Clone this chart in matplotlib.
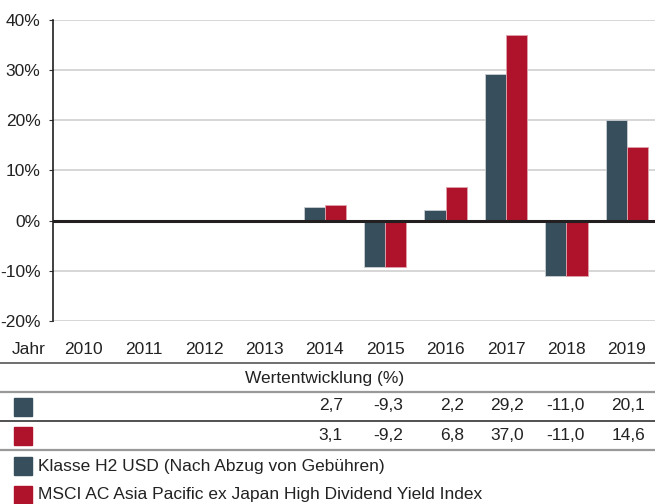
import numpy as np
import matplotlib
matplotlib.use('Agg')
import matplotlib.pyplot as plt
from matplotlib.transforms import blended_transform_factory
from matplotlib.patches import Rectangle
from matplotlib.lines import Line2D

plt.rcParams['font.family'] = ['Liberation Sans', 'DejaVu Sans']

# Daten
years = ['2010', '2011', '2012', '2013', '2014', '2015', '2016', '2017', '2018', '2019']
fund = [np.nan, np.nan, np.nan, np.nan, 2.7, -9.3, 2.2, 29.2, -11.0, 20.1]
index = [np.nan, np.nan, np.nan, np.nan, 3.1, -9.2, 6.8, 37.0, -11.0, 14.6]
fund_txt = ['', '', '', '', '2,7', '-9,3', '2,2', '29,2', '-11,0', '20,1']
index_txt = ['', '', '', '', '3,1', '-9,2', '6,8', '37,0', '-11,0', '14,6']
yticks = [-20, -10, 0, 10, 20, 30, 40]
labels = ['Klasse H2 USD (Nach Abzug von Gebühren)',
          'MSCI AC Asia Pacific ex Japan High Dividend Yield Index']

c_fund = '#374f5c'
c_index = '#ae132b'
W, H = 655, 504
FS = 12.5

fig = plt.figure(figsize=(W / 100, H / 100), dpi=100)

def fy(py):
    return 1 - py / H

def fx(px):
    return px / W

ax = fig.add_axes([fx(53), fy(321), fx(604), (321 - 20) / H])
x = np.arange(len(years))
bw = 0.35
ax.bar(x - bw / 2, fund, width=bw, color=c_fund, edgecolor='#c9ced2', linewidth=0.6, zorder=3)
ax.bar(x + bw / 2, index, width=bw, color=c_index, edgecolor='#e0a3ad', linewidth=0.6, zorder=3)

ax.set_xlim(-0.5, 9.5)
ax.set_ylim(-20, 40)
ax.set_yticks(yticks)
ax.set_yticklabels([f'{v}%' for v in yticks], fontsize=FS, color='#222222')
ax.tick_params(axis='y', length=3, width=0.8, pad=6, color='#333333')
ax.set_xticks([])
ax.grid(axis='y', color='#cfcfcf', linewidth=1.2, zorder=0)
ax.axhline(0, color='#231f20', linewidth=2.2, zorder=4)
for s in ['top', 'right', 'bottom']:
    ax.spines[s].set_visible(False)
ax.spines['left'].set_color('#231f20')
ax.spines['left'].set_linewidth(1.2)

# Tabelle unter der Grafik
tr = blended_transform_factory(ax.transData, fig.transFigure)
fig.text(fx(12), fy(350), 'Jahr', fontsize=FS, va='center', ha='left', color='#222222')
for i, yr in enumerate(years):
    ax.text(i, fy(350), yr, transform=tr, fontsize=FS, ha='center', va='center',
            color='#222222', clip_on=False)
    ax.text(i + 0.30, fy(406), fund_txt[i], transform=tr, fontsize=FS, ha='right',
            va='center', color='#222222', clip_on=False)
    ax.text(i + 0.30, fy(436), index_txt[i], transform=tr, fontsize=FS, ha='right',
            va='center', color='#222222', clip_on=False)

fig.text(fx(325), fy(378), 'Wertentwicklung (%)', fontsize=FS, ha='center', va='center',
         color='#222222')

for py, col, lw in [(363, '#555555', 1.2), (392, '#999999', 1.6),
                    (421, '#333333', 1.2), (450, '#999999', 1.6)]:
    fig.add_artist(Line2D([0, 1], [fy(py), fy(py)], transform=fig.transFigure,
                          color=col, linewidth=lw))

for py, col in [(407, c_fund), (436, c_index)]:
    fig.add_artist(Rectangle((fx(14), fy(py + 9)), fx(18), 18 / H,
                             transform=fig.transFigure, color=col))

for py, col, lab in [(466, c_fund, labels[0]), (495, c_index, labels[1])]:
    fig.add_artist(Rectangle((fx(14), fy(py + 9)), fx(18), 18 / H,
                             transform=fig.transFigure, color=col))
    fig.text(fx(38), fy(py), lab, fontsize=FS, ha='left', va='center', color='#222222')

plt.savefig('out.png', dpi=100)
